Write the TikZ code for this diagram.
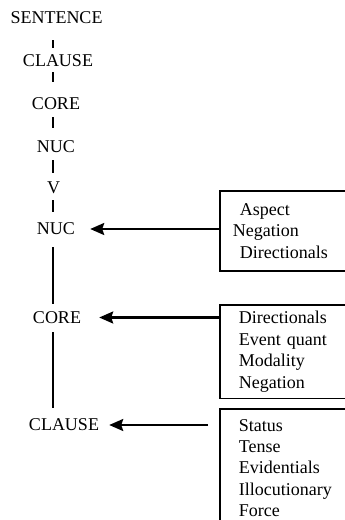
\documentclass[tikz,border=0pt]{standalone}
\usepackage{fontspec}
\setmainfont{Liberation Serif}
\usetikzlibrary{arrows.meta}

\tikzset{
  lbl/.style={inner sep=0pt, font=\fontsize{18}{21.5}\selectfont},
  opbox/.style={draw, line width=1.6pt, anchor=north west, align=left,
    text width=200pt, inner xsep=19pt,
    font=\fontsize{18}{21.5}\selectfont},
  tick/.style={line width=1.7pt},
  oparrow/.style={line width=2.2pt, -{Stealth[length=14pt,width=12pt,inset=2pt]}}
}

\begin{document}
\begin{tikzpicture}[x=1pt,y=-1pt]
\useasboundingbox (0,0) rectangle (345,520);
\clip (0,0) rectangle (345,520);

% axis of the vertical layer lines
\coordinate (axis) at (53,0);

% projection of the layered structure
\node[lbl] (sent)    at (56.5,17.5) {SENTENCE};
\node[lbl] (clause)  at (58,61)     {CLAUSE};
\node[lbl] (core)    at (56,103.5)  {CORE};
\node[lbl] (nuc)     at (56,146.5)  {NUC};
\node[lbl] (v)       at (53.5,187.5){V};
\node[lbl] (nucB)    at (56,229)    {NUC};
\node[lbl] (coreB)   at (57,317.5)  {CORE};
\node[lbl] (clauseB) at (64,425)    {CLAUSE};

% short links in the upper part
\draw[tick, shorten <=16.5pt, shorten >=7pt]  (sent.south -| axis)   -- (clause.north -| axis);
\draw[tick, shorten <=5pt,    shorten >=15.5pt] (clause.south -| axis) -- (core.north -| axis);
\draw[tick, shorten <=7.5pt,  shorten >=12.5pt] (core.south -| axis)   -- (nuc.north -| axis);
\draw[tick, shorten <=7.5pt,  shorten >=8.5pt]  (nuc.south -| axis)    -- (v.north -| axis);
\draw[tick, shorten <=6.5pt,  shorten >=11pt]   (v.south -| axis)      -- (nucB.north -| axis);

% long links in the operator part
\draw[tick, shorten <=12pt,  shorten >=7.5pt] (nucB.south -| axis)  -- (coreB.north -| axis);
\draw[tick, shorten <=8.5pt, shorten >=11pt]  (coreB.south -| axis) -- (clauseB.north -| axis);

% operator boxes
\node[opbox, inner xsep=13pt, inner ysep=12.5pt] (opNuc) at (219,190)
  {\hspace{7pt}Aspect\\Negation\\\hspace{7pt}Directionals};
\node[opbox, inner ysep=6.4pt] (opCore) at (219,304)
  {Directionals\\Event quant\\Modality\\Negation};
\node[opbox, inner ysep=11pt, font=\fontsize{18}{21.1}\selectfont] (opClause) at (219,408)
  {Status\\Tense\\Evidentials\\Illocutionary\\Force};

% operators attaching to their layers
\draw[oparrow, shorten >=15pt] (opNuc.west |- nucB) -- (nucB.east);
\draw[oparrow, shorten >=18pt] (opCore.west |- coreB) -- (coreB.east);
\draw[oparrow, shorten <=11pt, shorten >=10pt] (opClause.west |- clauseB) -- (clauseB.east);
\end{tikzpicture}
\end{document}
